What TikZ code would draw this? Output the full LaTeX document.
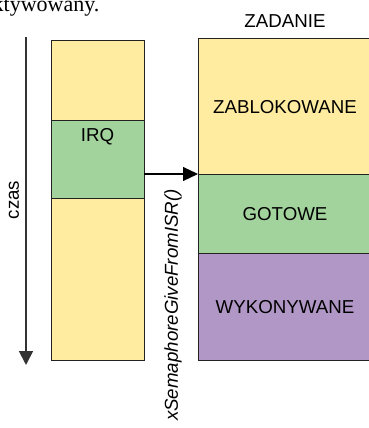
\documentclass[tikz,border=0pt]{standalone}
\usepackage{fontspec}
\setmainfont{Liberation Sans}
\newfontfamily\bodyserif{Liberation Serif}
\usetikzlibrary{arrows.meta}
\definecolor{stateyellow}{RGB}{255,236,160}
\definecolor{stategreen}{RGB}{163,211,156}
\definecolor{statepurple}{RGB}{176,151,198}
\definecolor{edgegray}{RGB}{34,34,34}
\tikzset{
  band/.style={draw=edgegray, line width=1pt, inner sep=0pt, outer sep=0pt,
    minimum width=#1},
  lbl/.style={font=\fontsize{18.7}{22}\selectfont, inner sep=0pt},
  flow/.style={line width=1.2pt, draw=black,
    -{Triangle[length=15pt,width=14pt]}},
}
\begin{document}
\begin{tikzpicture}[x=1pt,y=-1pt]
  \clip (0,0) rectangle (369,428);
  % tail of the running paragraph above
  \node[anchor=base west, inner sep=0pt, font=\bodyserif\fontsize{22}{26}\selectfont]
    (para) at (-7.5,12) {ktywowany.};
  % time axis
  \coordinate (t0) at (26,37);
  \coordinate (t1) at (26,365);
  \draw[line width=1.8pt, draw=black!80, -{Triangle[length=14pt,width=14pt]}] (t0) -- (t1);
  \node[lbl, rotate=90] (czas) at (14,200) {czas};
  % interrupt column
  \draw[band, fill=stateyellow] (51,41) rectangle (144,120);
  \node[band, fill=stategreen, anchor=north west, minimum width=93pt, minimum height=78pt]
    (irq) at (51,120) {};
  \node[lbl, anchor=north] (irqtxt) at (97.5,128) {IRQ};
  \draw[band, fill=stateyellow] (51,198) rectangle (144,360);
  % task states
  \node[lbl] (zadanie) at (285,21) {ZADANIE};
  \node[band, fill=stateyellow, anchor=north west, minimum width=174pt, minimum height=135pt]
    (zab) at (198,39) {};
  \node[band, fill=stategreen, anchor=north west, minimum width=174pt, minimum height=79pt]
    (got) at (198,174) {};
  \node[band, fill=statepurple, anchor=north west, minimum width=174pt, minimum height=107pt]
    (wyk) at (198,253) {};
  \node[lbl] (zabtxt) at (285,107) {ZABLOKOWANE};
  \node[lbl] (gottxt) at (285,214) {GOTOWE};
  \node[lbl] (wyktxt) at (285,307) {WYKONYWANE};
  % semaphore signal
  \draw[flow] (got.north west -| irq.east) -- (got.north west);
  \node[lbl, rotate=90, anchor=east, font=\itshape\fontsize{18.7}{22}\selectfont]
    (sem) at (173,189) {xSemaphoreGiveFromISR()};
\end{tikzpicture}
\end{document}
